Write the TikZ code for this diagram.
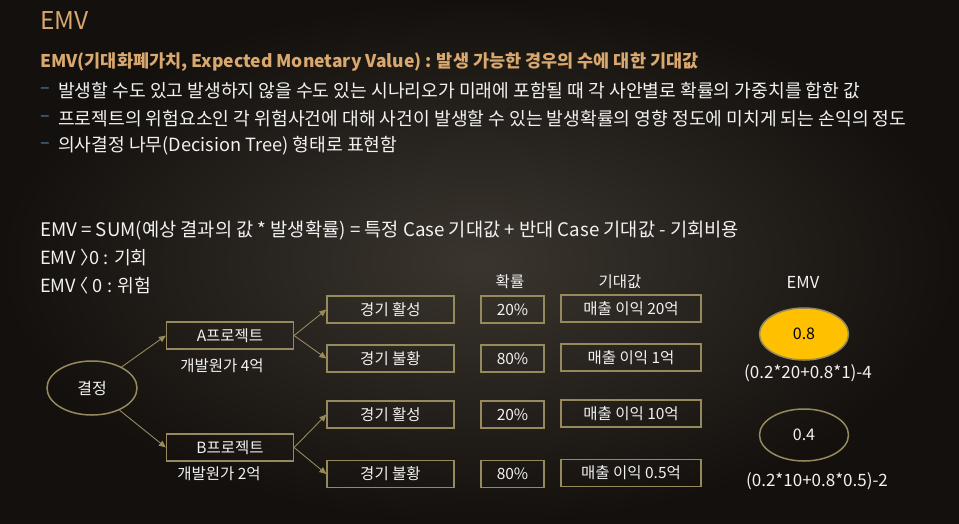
\documentclass[tikz,border=0pt]{standalone}
\usepackage{fontspec}
\setmainfont{Noto Sans CJK KR}
\usetikzlibrary{arrows.meta,shapes.geometric}
\definecolor{bgin}{RGB}{58,53,46}
\definecolor{bgout}{RGB}{20,16,13}
\definecolor{titlec}{RGB}{217,168,110}
\definecolor{linec}{RGB}{150,138,92}
\definecolor{dashc}{RGB}{79,129,189}
\definecolor{txt}{RGB}{242,242,242}
\definecolor{gold}{RGB}{255,192,0}
\begin{document}
\begin{tikzpicture}[x=1pt,y=-1pt,
  every node/.style={inner sep=0pt, text=txt},
  line/.style={anchor=west, font=\fontsize{18.2}{18.2}\selectfont},
  dashmark/.style={anchor=west, text=dashc, font=\fontsize{18}{18}\selectfont},
  lbl/.style={font=\fontsize{15.5}{15.5}\selectfont},
  box/.style={draw=linec, line width=1.2pt, minimum height=27pt, font=\fontsize{15.5}{15.5}\selectfont},
  oval/.style={ellipse, draw=linec, line width=1.5pt, minimum width=89pt, minimum height=52pt, font=\fontsize{16}{16}\selectfont},
  arr/.style={draw=linec, line width=0.9pt, -{Triangle[length=7pt,width=6pt]}}]
\useasboundingbox (0,0) rectangle (959,523);
\shade[inner color=bgin, outer color=bgout] (0,0) rectangle (959,523);

\node[anchor=west, text=titlec, font=\fontsize{24.5}{24.5}\selectfont] (title) at (40,21) {EMV};
\node[anchor=west, text=titlec, font=\bfseries\fontsize{17.5}{17.5}\selectfont] (head) at (40,62) {EMV(기대화폐가치, Expected Monetary Value) : 발생 가능한 경우의 수에 대한 기대값};

\node[dashmark] (d1) at (40,91) {–};
\node[line] (b1) at (58,91) {발생할 수도 있고 발생하지 않을 수도 있는 시나리오가 미래에 포함될 때 각 사안별로 확률의 가중치를 합한 값};
\node[dashmark] (d2) at (40,119) {–};
\node[line] (b2) at (58,119) {프로젝트의 위험요소인 각 위험사건에 대해 사건이 발생할 수 있는 발생확률의 영향 정도에 미치게 되는 손익의 정도};
\node[dashmark] (d3) at (40,146) {–};
\node[line] (b3) at (58,146) {의사결정 나무(Decision Tree) 형태로 표현함};

\node[line, font=\fontsize{18.7}{18.7}\selectfont] (f1) at (40,231) {EMV = SUM(예상 결과의 값 * 발생확률) = 특정 Case 기대값 + 반대 Case 기대값 - 기회비용};
\node[line] (f2) at (40,258) {EMV 〉\hspace{-0.5em}0 : 기회};
\node[line] (f3) at (40,286) {EMV\hspace{-0.3em}〈 0 : 위험};

\node[lbl] (hp) at (510,282) {확률};
\node[lbl] (hv) at (620,282) {기대값};
\node[lbl, font=\fontsize{16.5}{16.5}\selectfont] (he) at (803,282) {EMV};

\node[oval, minimum width=90pt, minimum height=54pt] (dec) at (92,388) {결정};
\node[box, minimum width=127pt] (A) at (230,335.5) {A프로젝트};
\node[box, minimum width=127pt] (B) at (230,447.5) {B프로젝트};
\node[lbl] (costA) at (222,366) {개발원가 4억};
\node[lbl] (costB) at (219,474) {개발원가 2억};

\node[box, minimum width=127pt] (r1) at (390.5,309.5) {경기 활성};
\node[box, minimum width=127pt] (r2) at (390.5,358.5) {경기 불황};
\node[box, minimum width=127pt] (r3) at (390.5,414.5) {경기 활성};
\node[box, minimum width=127pt] (r4) at (390.5,474) {경기 불황};

\node[box, minimum width=63pt] (p1) at (512.5,309.5) {20\%};
\node[box, minimum width=63pt] (p2) at (512.5,358.5) {80\%};
\node[box, minimum width=63pt] (p3) at (512.5,414.5) {20\%};
\node[box, minimum width=63pt] (p4) at (512.5,474) {80\%};

\node[box, minimum width=140pt] (v1) at (631,308.5) {매출 이익 20억};
\node[box, minimum width=140pt] (v2) at (631,357.5) {매출 이익 1억};
\node[box, minimum width=140pt] (v3) at (631,413.5) {매출 이익 10억};
\node[box, minimum width=140pt] (v4) at (631,473) {매출 이익 0.5억};

\node[oval, fill=gold, text=black] (e1) at (804,334) {0.8};
\node[oval] (e2) at (804,435) {0.4};
\node[lbl, font=\fontsize{17}{17}\selectfont] (c1) at (808,373) {(0.2*20+0.8*1)-4};
\node[lbl, font=\fontsize{17}{17}\selectfont] (c2) at (817,481) {(0.2*10+0.8*0.5)-2};

\draw[arr] (dec) -- (A.west);
\draw[arr] (dec) -- (B.west);
\draw[arr] (A.east) -- (r1.west);
\draw[arr] (A.east) -- (r2.west);
\draw[arr] (B.east) -- (r3.west);
\draw[arr] (B.east) -- (r4.west);
\end{tikzpicture}
\end{document}
